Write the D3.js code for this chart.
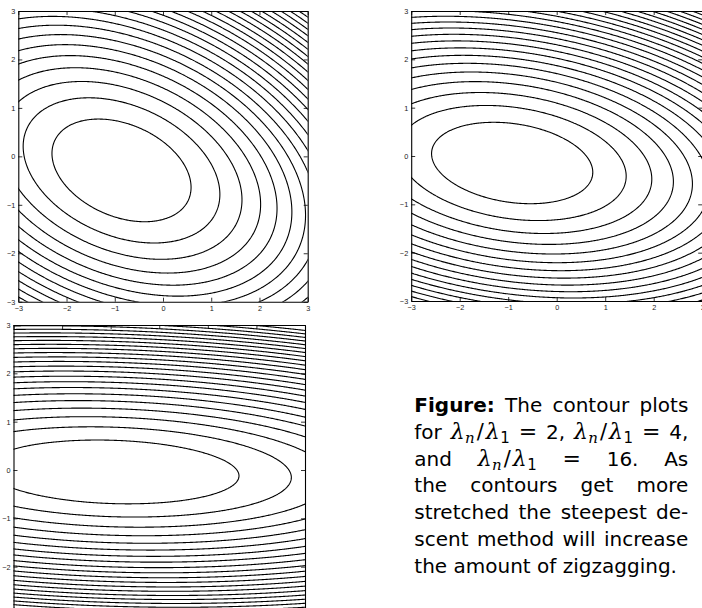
<!DOCTYPE html>
<html>
<head>
<meta charset="utf-8">
<script src="https://cdn.jsdelivr.net/npm/d3@7"></script>
<style>
  body { margin: 0; background: #fff; }
  svg { display: block; }
</style>
</head>
<body>
<svg id="fig" width="702" height="608"></svg>
<script>
// quadratic bowl per panel: f = a*dx^2 + 2*b*dx*dy + c*dy^2 around a centre
var centerA = [-0.86, -0.29],
    formA = [0.54, 0.243, 1.0];
var centerB = [-0.918, -0.145],
    formB = [0.382, 0.1725, 1.488];
var centerC = [-0.96, -0.04],
    formC = [0.150, 0.0724, 2.330];
// contour levels (same for every panel)
var levels = [1, 2, 3, 4, 5, 6, 7, 8, 9, 10, 11, 12, 13, 14, 15, 16, 17, 18, 19, 20, 21, 22, 23, 24];
var ticks = [-3, -2, -1, 0, 1, 2, 3];

var captionLines = [
    [[{t: "Figure:", b: true}], [{t: "The"}], [{t: "contour"}], [{t: "plots"}]],
    [[{t: "for"}], "L", "=", [{t: "2,"}], "L", "=", [{t: "4,"}]],
    [[{t: "and"}], "L", "=", [{t: "16."}], [{t: "As"}]],
    [[{t: "the"}], [{t: "contours"}], [{t: "get"}], [{t: "more"}]],
    [[{t: "stretched"}], [{t: "the"}], [{t: "steepest"}], [{t: "de-"}]],
    [[{t: "scent"}], [{t: "method"}], [{t: "will"}], [{t: "increase"}]],
    [[{t: "the"}], [{t: "amount"}], [{t: "of"}], [{t: "zigzagging."}]]
];

var panels = [
    {center: centerA, form: formA, px: [18.3, 307.7], py: [11, 301.7], xLab: true, yLab: ticks},
    {center: centerB, form: formB, px: [411.2, 702.2], py: [11, 301], xLab: true, yLab: ticks},
    {center: centerC, form: formC, px: [13.5, 305], py: [325, 615], xLab: false, yLab: [-2, -1, 0, 1, 2, 3]}
];

var svg = d3.select("#fig");
var defs = svg.append("defs");

var lo = -3.2, hi = 3.2, step = 0.02,
    n = Math.round((hi - lo) / step) + 1;

function gridValues(center, form) {
    var vals = new Float64Array(n * n);
    for (var j = 0; j < n; j++) {
        for (var i = 0; i < n; i++) {
            var dx = lo + i * step - center[0],
                dy = lo + j * step - center[1];
            vals[j * n + i] = form[0] * dx * dx + 2 * form[1] * dx * dy + form[2] * dy * dy;
        }
    }
    return vals;
}

panels.forEach(function(p, k) {
    var x = d3.scaleLinear().domain([-3, 3]).range(p.px),
        y = d3.scaleLinear().domain([-3, 3]).range([p.py[1], p.py[0]]);

    defs.append("clipPath").attr("id", "clip" + k)
        .append("rect")
        .attr("x", p.px[0]).attr("y", p.py[0])
        .attr("width", p.px[1] - p.px[0]).attr("height", p.py[1] - p.py[0]);

    var contours = d3.contours()
        .size([n, n])
        .thresholds(levels)(gridValues(p.center, p.form));

    var path = d3.geoPath(d3.geoTransform({
        point: function(cx, cy) {
            this.stream.point(x(lo + (cx - 0.5) * step), y(lo + (cy - 0.5) * step));
        }
    }));

    svg.append("g")
        .attr("clip-path", "url(#clip" + k + ")")
        .selectAll("path")
        .data(contours)
        .enter().append("path")
        .attr("d", path)
        .attr("fill", "none")
        .attr("stroke", "#000")
        .attr("stroke-width", 1.1);

    // MATLAB style boxed axes, ticks pointing inwards
    var fmt = d3.format("d");
    var yFmt = function(d) { return p.yLab.indexOf(d) >= 0 ? fmt(d) : ""; };
    var gB = svg.append("g").attr("transform", "translate(0," + p.py[1] + ")")
        .call(d3.axisBottom(x).tickValues(ticks).tickSize(-4).tickSizeOuter(0).tickPadding(4)
            .tickFormat(p.xLab ? fmt : ""));
    var gT = svg.append("g").attr("transform", "translate(0," + p.py[0] + ")")
        .call(d3.axisTop(x).tickValues(ticks).tickSize(-4).tickSizeOuter(0).tickFormat(""));
    var gL = svg.append("g").attr("transform", "translate(" + p.px[0] + ",0)")
        .call(d3.axisLeft(y).tickValues(ticks).tickSize(-4).tickSizeOuter(0).tickPadding(3).tickFormat(yFmt));
    var gR = svg.append("g").attr("transform", "translate(" + p.px[1] + ",0)")
        .call(d3.axisRight(y).tickValues(ticks).tickSize(-4).tickSizeOuter(0).tickFormat(""));

    [gB, gT, gL, gR].forEach(function(g) {
        g.select(".domain").attr("stroke", "#000").attr("stroke-width", 1.1);
        g.selectAll(".tick line").attr("stroke", "#000").attr("stroke-width", 0.8);
        g.selectAll(".tick text")
            .filter(function() { return this.textContent === ""; }).remove();
        g.selectAll(".tick text")
            .attr("fill", "#222")
            .style("font-family", "'Liberation Sans', Arial, sans-serif")
            .style("font-size", "7.3px");
    });
});

// caption, justified like the LaTeX block
var capLeft = 414.3, capRight = 688.3, capTop = 412.3, capLead = 26.73,
    capFont = "'DejaVu Sans', sans-serif", capSize = 20;
var cap = svg.append("g");

function drawToken(g, tok) {
    var t = g.append("text")
        .attr("x", 0)
        .style("font-family", capFont)
        .style("font-size", capSize + "px")
        .attr("fill", "#000");
    if (tok === "L") {
        // lambda_n / lambda_1
        t.append("tspan").text("λ").style("font-family", "'DejaVu Serif', serif")
            .style("font-style", "italic").style("font-size", "22px");
        t.append("tspan").text("n").attr("dy", 4).attr("dx", 0.5)
            .style("font-family", "'DejaVu Serif', serif").style("font-size", "15px").style("font-style", "italic");
        t.append("tspan").text("/").attr("dy", -4).attr("dx", 2).style("font-size", "21px");
        t.append("tspan").text("λ").attr("dx", 2).style("font-family", "'DejaVu Serif', serif")
            .style("font-style", "italic").style("font-size", "22px");
        t.append("tspan").text("1").attr("dy", 4).attr("dx", 0.5).style("font-size", "15px");
    } else if (tok === "=") {
        t.append("tspan").text("=").style("font-size", "22px");
    } else {
        tok.forEach(function(s) {
            t.append("tspan").text(s.t).style("font-weight", s.b ? "bold" : "normal");
        });
    }
    return t;
}

// advance width including the dx shifts of the tspans
function tokenWidth(t) {
    var node = t.node(), last = node.getNumberOfChars() - 1;
    return node.getEndPositionOfChar(last).x - node.getStartPositionOfChar(0).x;
}

captionLines.forEach(function(line, li) {
    var g = cap.append("g").attr("transform", "translate(0," + (capTop + li * capLead) + ")");
    var items = line.map(function(tok) { return drawToken(g, tok); });
    var widths = items.map(tokenWidth);
    var total = d3.sum(widths);
    var last = li === captionLines.length - 1;
    var gap = last ? capSize * 0.32 : (capRight - capLeft - total) / (items.length - 1);
    var pos = capLeft;
    items.forEach(function(t, i) {
        t.attr("x", pos);
        pos += widths[i] + gap;
    });
});
</script>
</body>
</html>
